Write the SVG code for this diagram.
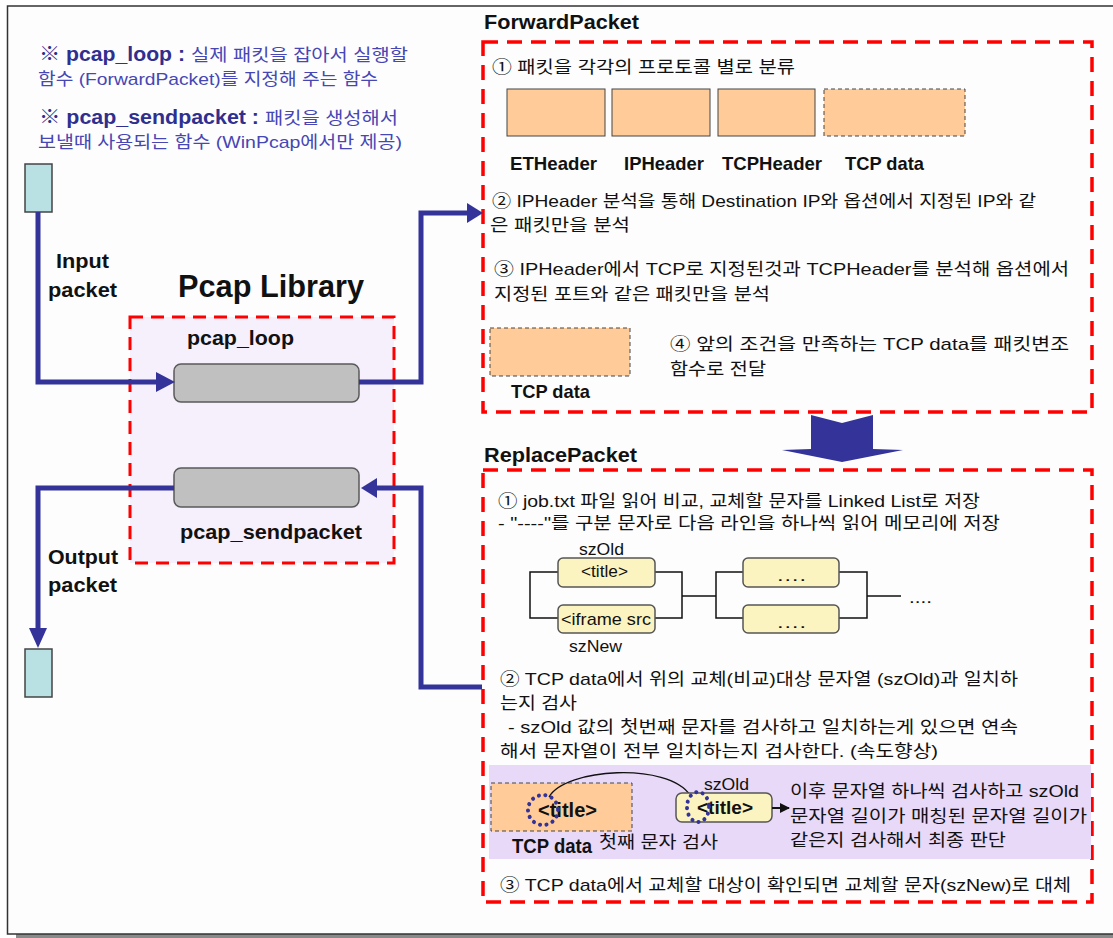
<svg xmlns="http://www.w3.org/2000/svg" width="1113" height="938" viewBox="0 0 1113 938">
  <style>
    .t { font-family: "Liberation Sans", "Noto Sans CJK KR", sans-serif; font-size: 17px; fill: #111; }
    .b { font-family: "Liberation Sans", "Noto Sans CJK KR", sans-serif; font-weight: bold; fill: #111; }
    .note { font-family: "Liberation Sans", "Noto Sans CJK KR", sans-serif; font-size: 17px; fill: #4646b4; }
    .noteb { font-family: "Liberation Sans", "Noto Sans CJK KR", sans-serif; font-size: 20px; font-weight: bold; fill: #2f2f8f; }
    .zone { fill: none; stroke: #ff0000; stroke-width: 3.5; stroke-dasharray: 15 9; }
    .port { fill: #b9e0e3; stroke: #444; stroke-width: 1.5; }
    .fn { fill: #c0c0c0; stroke: #5a5a5a; stroke-width: 1.5; }
    .hdr { fill: #ffcc99; stroke: #444; stroke-width: 1; }
    .hdrd { fill: #ffcc99; stroke: #444; stroke-width: 1; stroke-dasharray: 4 3; }
    .node { fill: #fcf4c0; stroke: #555; stroke-width: 1.5; }
    .flow { fill: none; stroke: #333399; stroke-width: 5; }
    .head { fill: #333399; }
    .link { fill: none; stroke: #111; stroke-width: 1.5; }
    .dots { fill: none; stroke: #333399; stroke-width: 4; stroke-linecap: round; stroke-dasharray: 0.1 6.5; }
  </style>
  <defs>
    <marker id="tip" viewBox="0 0 10 10" refX="9" refY="5" markerWidth="5" markerHeight="5" orient="auto">
      <path d="M0,0 L10,5 L0,10 z" fill="#111"/>
    </marker>
  </defs>

  <!-- page frame -->
  <rect x="16" y="934" width="1100" height="4" fill="#8a8a8a"/>
  <rect x="7.5" y="6" width="1120" height="928" fill="#fdfdfd" stroke="#333" stroke-width="1.5"/>

  <!-- notes -->
  <g id="notes">
    <text class="noteb" x="39" y="61" textLength="146" lengthAdjust="spacingAndGlyphs">※ pcap_loop :</text>
    <text class="note" x="191" y="61" textLength="217" lengthAdjust="spacingAndGlyphs">실제 패킷을 잡아서 실행할</text>
    <text class="note" x="38" y="85" textLength="340" lengthAdjust="spacingAndGlyphs">함수 (ForwardPacket)를 지정해 주는 함수</text>
    <text class="noteb" x="39" y="124" textLength="220" lengthAdjust="spacingAndGlyphs">※ pcap_sendpacket :</text>
    <text class="note" x="265" y="124" textLength="133" lengthAdjust="spacingAndGlyphs">패킷을 생성해서</text>
    <text class="note" x="38" y="148" textLength="364" lengthAdjust="spacingAndGlyphs">보낼때 사용되는 함수 (WinPcap에서만 제공)</text>
  </g>

  <!-- Pcap library -->
  <g id="pcap-library">
    <rect x="130" y="317" width="264" height="246" fill="#f6effc"/>
    <rect class="zone" x="130" y="317" width="264" height="246" style="stroke-width:3;stroke-dasharray:13 8"/>
    <text class="b" x="178" y="297" font-size="31" textLength="186" lengthAdjust="spacingAndGlyphs">Pcap Library</text>
  </g>
  <g id="pcap-loop">
    <text class="b" x="187" y="345" font-size="21" textLength="107" lengthAdjust="spacingAndGlyphs">pcap_loop</text>
    <rect class="fn" x="174" y="364" width="185" height="38" rx="7"/>
  </g>
  <g id="pcap-sendpacket">
    <rect class="fn" x="174" y="468" width="185" height="39" rx="7"/>
    <text class="b" x="180" y="539" font-size="21" textLength="182" lengthAdjust="spacingAndGlyphs">pcap_sendpacket</text>
  </g>
  <g id="input-port">
    <rect class="port" x="25" y="164" width="27" height="48"/>
    <text class="b" x="56" y="268" font-size="21" textLength="53" lengthAdjust="spacingAndGlyphs">Input</text>
    <text class="b" x="48" y="297" font-size="21" textLength="69" lengthAdjust="spacingAndGlyphs">packet</text>
  </g>
  <g id="output-port">
    <rect class="port" x="25" y="649" width="27" height="48"/>
    <text class="b" x="48" y="564" font-size="21" textLength="70" lengthAdjust="spacingAndGlyphs">Output</text>
    <text class="b" x="48" y="592" font-size="21" textLength="69" lengthAdjust="spacingAndGlyphs">packet</text>
  </g>

  <!-- ForwardPacket -->
  <g id="forward-packet">
    <text class="b" x="484" y="29" font-size="21" textLength="155" lengthAdjust="spacingAndGlyphs">ForwardPacket</text>
    <rect class="zone" x="483" y="42" width="609" height="370"/>
    <text class="t" x="492" y="73" textLength="303" lengthAdjust="spacingAndGlyphs">① 패킷을 각각의 프로토콜 별로 분류</text>
    <rect class="hdr" x="507" y="89" width="98" height="47"/>
    <rect class="hdr" x="612" y="89" width="98" height="47"/>
    <rect class="hdr" x="718" y="89" width="97" height="47"/>
    <rect class="hdrd" x="824" y="89" width="141" height="47"/>
    <text class="b" x="510" y="170" font-size="19" textLength="87" lengthAdjust="spacingAndGlyphs">ETHeader</text>
    <text class="b" x="624" y="170" font-size="19" textLength="80" lengthAdjust="spacingAndGlyphs">IPHeader</text>
    <text class="b" x="722" y="170" font-size="19" textLength="100" lengthAdjust="spacingAndGlyphs">TCPHeader</text>
    <text class="b" x="845" y="170" font-size="19" textLength="79" lengthAdjust="spacingAndGlyphs">TCP data</text>
    <text class="t" x="492" y="207" textLength="544" lengthAdjust="spacingAndGlyphs">② IPHeader 분석을 통해 Destination IP와 옵션에서 지정된 IP와 같</text>
    <text class="t" x="490" y="231" textLength="140" lengthAdjust="spacingAndGlyphs">은 패킷만을 분석</text>
    <text class="t" x="494" y="275" textLength="575" lengthAdjust="spacingAndGlyphs">③ IPHeader에서 TCP로 지정된것과  TCPHeader를 분석해 옵션에서</text>
    <text class="t" x="494" y="300" textLength="276" lengthAdjust="spacingAndGlyphs">지정된 포트와 같은 패킷만을 분석</text>
    <rect class="hdrd" x="490" y="328" width="140" height="48"/>
    <text class="b" x="511" y="398" font-size="19" textLength="79" lengthAdjust="spacingAndGlyphs">TCP data</text>
    <text class="t" x="670" y="350" textLength="399" lengthAdjust="spacingAndGlyphs">④ 앞의 조건을 만족하는 TCP data를 패킷변조</text>
    <text class="t" x="670" y="375" textLength="96" lengthAdjust="spacingAndGlyphs">함수로 전달</text>
  </g>

  <!-- ReplacePacket -->
  <g id="replace-packet">
    <text class="b" x="484" y="462" font-size="21" textLength="153" lengthAdjust="spacingAndGlyphs">ReplacePacket</text>
    <rect class="zone" x="483" y="470" width="609" height="432"/>
    <text class="t" x="498" y="507" textLength="482" lengthAdjust="spacingAndGlyphs">① job.txt 파일 읽어 비교, 교체할 문자를 Linked List로 저장</text>
    <text class="t" x="498" y="529" textLength="502" lengthAdjust="spacingAndGlyphs">- "----"를 구분 문자로  다음 라인을 하나씩 읽어 메모리에 저장</text>

    <!-- linked list of (szOld, szNew) pairs -->
    <path class="link" d="M558,572 H530 V618 H558 M655,572 H682 V618 H655 M682,596 H716 M743,572 H716 V618 H743 M839,572 H867 V618 H839 M867,596 H901"/>
    <text class="t" x="579" y="555" textLength="45" lengthAdjust="spacingAndGlyphs">szOld</text>
    <rect class="node" x="558" y="558" width="97" height="29" rx="5"/>
    <text class="t" x="581" y="577" textLength="47" lengthAdjust="spacingAndGlyphs">&lt;title&gt;</text>
    <rect class="node" x="558" y="605" width="97" height="28" rx="5"/>
    <text class="t" x="561" y="625" textLength="90" lengthAdjust="spacingAndGlyphs">&lt;iframe src</text>
    <text class="t" x="569" y="652" textLength="53" lengthAdjust="spacingAndGlyphs">szNew</text>
    <rect class="node" x="743" y="558" width="96" height="29" rx="5"/>
    <text class="t" x="776" y="581" textLength="30" lengthAdjust="spacingAndGlyphs">….</text>
    <rect class="node" x="743" y="605" width="96" height="28" rx="5"/>
    <text class="t" x="776" y="628" textLength="30" lengthAdjust="spacingAndGlyphs">….</text>
    <text class="t" x="909" y="603" textLength="23" lengthAdjust="spacingAndGlyphs">....</text>

    <text class="t" x="500" y="685" textLength="518" lengthAdjust="spacingAndGlyphs">② TCP data에서 위의 교체(비교)대상 문자열 (szOld)과 일치하</text>
    <text class="t" x="500" y="709" textLength="77" lengthAdjust="spacingAndGlyphs">는지 검사</text>
    <text class="t" x="508" y="733" textLength="510" lengthAdjust="spacingAndGlyphs">- szOld 값의 첫번째 문자를 검사하고 일치하는게 있으면 연속</text>
    <text class="t" x="500" y="757" textLength="438" lengthAdjust="spacingAndGlyphs">해서 문자열이 전부 일치하는지 검사한다.  (속도향상)</text>

    <!-- first-character match example -->
    <rect x="489" y="765" width="602" height="94" fill="#e8d9f8"/>
    <rect class="hdrd" x="491" y="783" width="141" height="48"/>
    <text class="b" x="538" y="817" font-size="20" textLength="59" lengthAdjust="spacingAndGlyphs">&lt;title&gt;</text>
    <circle class="dots" cx="543" cy="810" r="15"/>
    <text class="b" x="512" y="853" font-size="20" textLength="80" lengthAdjust="spacingAndGlyphs">TCP data</text>
    <text class="t" x="599" y="848" textLength="119" lengthAdjust="spacingAndGlyphs">첫째 문자 검사</text>
    <path class="link" d="M549,797 C565,768 668,762 690,795" style="stroke-width:1.3"/>
    <text class="t" x="704" y="790" textLength="45" lengthAdjust="spacingAndGlyphs">szOld</text>
    <rect class="node" x="676" y="793" width="96" height="29" rx="6"/>
    <text class="b" x="697" y="814" font-size="19" textLength="56" lengthAdjust="spacingAndGlyphs">&lt;title&gt;</text>
    <ellipse class="dots" cx="698" cy="807" rx="11" ry="15"/>
    <line class="link" x1="772" y1="808" x2="789" y2="808" marker-end="url(#tip)" style="stroke-width:2"/>
    <text class="t" x="790" y="797" textLength="289" lengthAdjust="spacingAndGlyphs">이후 문자열 하나씩 검사하고 szOld</text>
    <text class="t" x="790" y="822" textLength="297" lengthAdjust="spacingAndGlyphs">문자열 길이가 매칭된 문자열 길이가</text>
    <text class="t" x="790" y="846" textLength="216" lengthAdjust="spacingAndGlyphs">같은지 검사해서 최종 판단</text>

    <text class="t" x="500" y="891" textLength="571" lengthAdjust="spacingAndGlyphs">③ TCP data에서 교체할 대상이 확인되면 교체할 문자(szNew)로 대체</text>
  </g>

  <!-- connectors -->
  <g id="connectors">
    <path class="flow" d="M38,212 V382 H158"/>
    <polygon class="head" points="156,372 175,382 156,392"/>
    <path class="flow" d="M359,382 H421 V213 H468"/>
    <polygon class="head" points="467,203 483,213 467,223"/>
    <path class="flow" d="M174,488 H38 V630"/>
    <polygon class="head" points="29,628 38,648 47,628"/>
    <path class="flow" d="M482,687 H421 V488 H375"/>
    <polygon class="head" points="377,478 361,488 377,498"/>
    <!-- hand-off from ForwardPacket to ReplacePacket -->
    <polygon class="head" points="811,415 842,423 873,415 873,449 903,450 842,462 782,450 811,449"/>
  </g>
</svg>
